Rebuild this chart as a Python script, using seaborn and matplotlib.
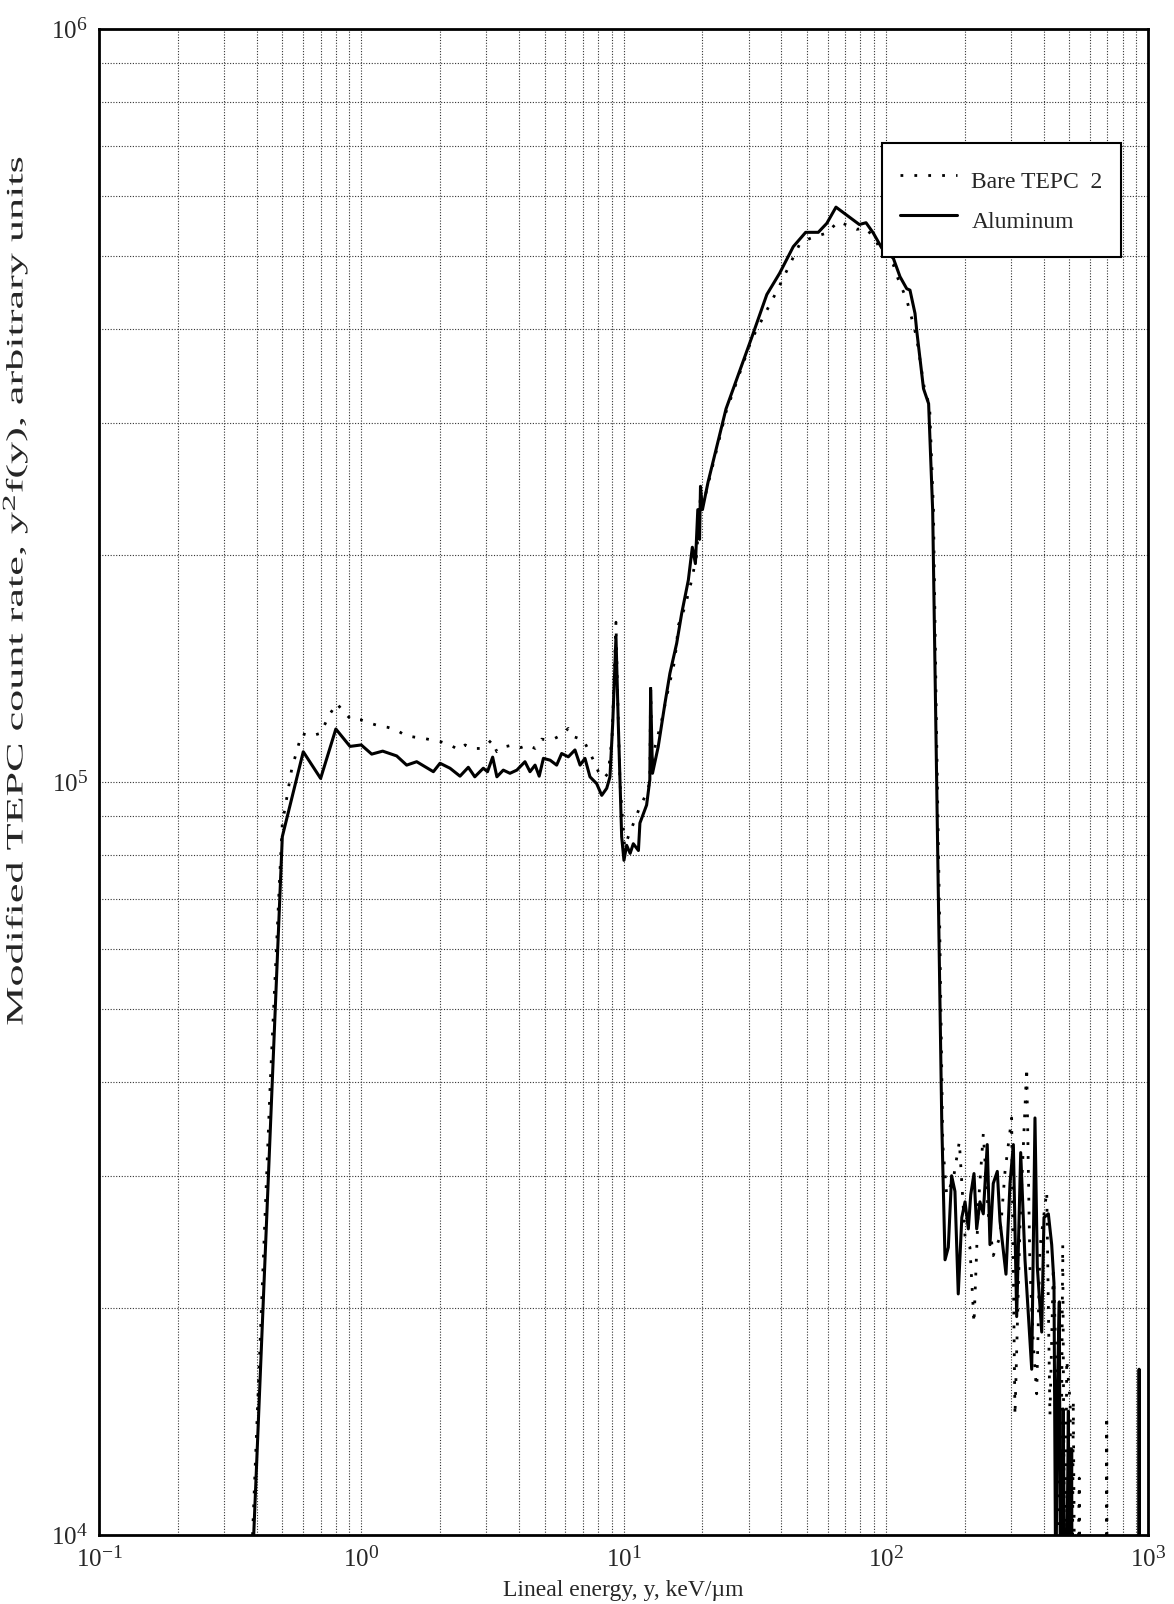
import numpy as np
import pandas as pd
import matplotlib
matplotlib.use("Agg")
import matplotlib.pyplot as plt
import seaborn as sns
from matplotlib.ticker import LogLocator, LogFormatterMathtext, NullFormatter
from matplotlib.patheffects import AbstractPathEffect
from matplotlib.transforms import Affine2D

try:  # slightly larger superscripts, as in the reference
    import matplotlib._mathtext as _mt
    _mt.SHRINK_FACTOR = 0.78
except Exception:
    pass

# ---------------- data ----------------
al_x = [0.389, 0.5, 0.601, 0.70, 0.80, 0.906, 1.0, 1.096, 1.207, 1.365, 1.49, 1.627,
        1.884, 1.997, 2.18, 2.38, 2.56, 2.71, 2.92, 3.03, 3.17, 3.29, 3.48, 3.69,
        3.92, 4.21, 4.40, 4.60, 4.77, 4.95, 5.25, 5.56, 5.81, 6.16, 6.53, 6.83,
        7.13, 7.45, 7.90, 8.26, 8.63, 8.88, 9.1, 9.36, 9.55, 9.84, 10.04, 10.28,
        10.6, 10.9, 11.4, 11.55, 12.25, 12.6, 12.69, 12.9, 13.57, 14.39, 15.03,
        15.95, 16.67, 17.67, 18.3, 18.8, 19.2, 19.5, 19.66, 20.0, 21.0, 24.6,
        30.8, 35.2, 39.4, 44.4, 49.5, 55.3, 59.6, 64.6, 71.0, 79.3, 84.1, 89.6,
        96.5, 106.9, 113.3, 120.2, 123.7, 129.3, 131.2, 139.3, 145.7, 151, 155,
        159.2, 163.6, 168.3, 173.2, 178.3, 183.6, 189, 195, 200.6, 206.5, 210.9,
        217, 222.2, 228.6, 235.5, 243.8, 249.7, 257, 266.3, 272.7, 287.4, 297.7,
        306.6, 315.7, 327, 339.6, 349.6, 360.2, 370.7, 378.4, 393.3, 401.2,
        416.9, 429.3, 438, 445, 452, 459, 466, 475, 485, 497, 503, 511.5, 520,
        924, 925, 926]
al_y = [1.0e4, 8.46e4, 1.097e5, 1.011e5, 1.176e5, 1.115e5, 1.12e5, 1.089e5, 1.099e5,
        1.083e5, 1.053e5, 1.064e5, 1.032e5, 1.059e5, 1.043e5, 1.018e5, 1.046e5,
        1.016e5, 1.043e5, 1.032e5, 1.079e5, 1.016e5, 1.037e5, 1.027e5, 1.037e5,
        1.064e5, 1.032e5, 1.053e5, 1.018e5, 1.075e5, 1.069e5, 1.053e5, 1.091e5,
        1.080e5, 1.103e5, 1.053e5, 1.075e5, 1.016e5, 9.95e4, 9.6e4, 9.81e4,
        1.016e5, 1.2e5, 1.56e5, 1.2e5, 8.46e4, 7.87e4, 8.24e4, 8.04e4, 8.28e4,
        8.11e4, 8.82e4, 9.32e4, 1.007e5, 1.325e5, 1.027e5, 1.115e5, 1.272e5,
        1.394e5, 1.528e5, 1.675e5, 1.854e5, 2.05e5, 1.95e5, 2.3e5, 2.1e5, 2.47e5,
        2.3e5, 2.5e5, 3.13e5, 3.89e5, 4.44e5, 4.74e5, 5.14e5, 5.37e5, 5.37e5,
        5.52e5, 5.80e5, 5.66e5, 5.50e5, 5.53e5, 5.36e5, 5.12e5, 4.96e5, 4.69e5,
        4.52e5, 4.50e5, 4.19e5, 3.98e5, 3.33e5, 3.18e5, 2.29e5, 1.224e5, 6.55e4,
        3.5e4, 2.32e4, 2.41e4, 3.0e4, 2.86e4, 2.09e4, 2.64e4, 2.77e4, 2.55e4,
        2.83e4, 3.02e4, 2.55e4, 2.77e4, 2.67e4, 3.30e4, 2.43e4, 2.93e4, 3.04e4,
        2.61e4, 2.22e4, 2.93e4, 3.30e4, 1.95e4, 3.22e4, 2.32e4, 1.97e4, 1.66e4,
        3.58e4, 2.27e4, 1.86e4, 2.64e4, 2.67e4, 2.43e4, 2.16e4, 8e3, 1.6e4,
        2.04e4, 5e3, 1.47e4, 6e3, 1.46e4, 5e3, 1.30e4, 1e3,
        1e3, 1.66e4, 1e3]

bare_x = [0.385, 0.45, 0.49, 0.5, 0.543, 0.593, 0.641, 0.70, 0.755, 0.806, 0.862,
          0.919, 0.998, 1.08, 1.172, 1.262, 1.365, 1.478, 1.60, 1.725, 1.866, 2.01,
          2.18, 2.36, 2.49, 2.64, 2.84, 3.01, 3.14, 3.29, 3.53, 3.80, 4.06, 4.34,
          4.60, 4.87, 5.17, 5.48, 5.81, 6.16, 6.44, 6.73, 7.03, 7.35, 7.68, 8.02,
          8.38, 8.75, 9.05, 9.36, 9.5, 9.70, 10.1, 10.43, 10.9, 11.55, 12.25, 12.6,
          12.69, 12.85, 13.2, 13.99, 14.8, 15.7, 16.2, 17.17, 18.2, 19.0, 19.66,
          20.5, 24.6, 30.8, 38.6, 47.1, 51.4, 59.6, 65.9, 73.1, 77.5, 84.1, 92.4,
          95, 107, 110, 116.7, 120.2, 125.6, 131, 140, 147, 152, 156, 160.5, 165,
          170.7, 181, 190.8, 200.6, 209.4, 217, 225.4, 235.5, 246, 257, 272.7, 285,
          302, 311, 325, 344.7, 354.6, 365, 376.3, 387.3, 411, 422.7, 435.5, 448.6,
          460, 473, 482, 490, 505, 512, 519, 530, 547, 560, 690, 696, 702]
bare_y = [1.0e4, 4.0e4, 7.64e4, 8.8e4, 1.04e5, 1.16e5, 1.15e5, 1.161e5, 1.227e5,
          1.272e5, 1.236e5, 1.209e5, 1.209e5, 1.197e5, 1.187e5, 1.182e5, 1.172e5,
          1.152e5, 1.147e5, 1.143e5, 1.137e5, 1.131e5, 1.12e5, 1.103e5, 1.12e5,
          1.108e5, 1.108e5, 1.12e5, 1.137e5, 1.097e5, 1.114e5, 1.12e5, 1.111e5,
          1.12e5, 1.108e5, 1.14e5, 1.137e5, 1.143e5, 1.155e5, 1.178e5, 1.149e5,
          1.143e5, 1.137e5, 1.103e5, 1.069e5, 1.032e5, 1.011e5, 1.027e5, 1.15e5,
          1.63e5, 1.3e5, 9.95e4, 8.2e4, 8.46e4, 8.8e4, 9.27e4, 9.66e4, 1.0e5,
          1.358e5, 1.05e5, 1.115e5, 1.208e5, 1.325e5, 1.452e5, 1.616e5, 1.71e5,
          1.854e5, 2.0e5, 2.4e5, 2.4e5, 3.1e5, 3.87e5, 4.5e5, 5.19e5, 5.27e5,
          5.36e5, 5.55e5, 5.47e5, 5.42e5, 5.44e5, 5.22e5, 5.06e5, 4.86e5, 4.71e5,
          4.48e5, 4.37e5, 4.13e5, 3.9e5, 3.35e5, 3.15e5, 2.3e5, 1.2e5, 6.5e4,
          3.3e4, 2.83e4, 2.97e4, 3.33e4, 2.49e4, 2.41e4, 1.91e4, 2.74e4, 3.41e4,
          2.67e4, 2.35e4, 2.49e4, 3.04e4, 3.58e4, 1.44e4, 2.58e4, 4.18e4, 2.27e4,
          1.80e4, 1.54e4, 2.41e4, 2.86e4, 1.44e4, 2.27e4, 1.60e4, 6e3, 2.43e4,
          7e3, 1.71e4, 1.5e4, 6e3, 1.51e4, 5e3, 1.19e4, 3e3, 3e3, 1.44e4, 3e3]

series_names = ["Bare TEPC  2", "Aluminum"]


class StretchText(AbstractPathEffect):
    """Draw a text's glyphs stretched along the reading direction."""

    def __init__(self, sx):
        super().__init__()
        self.sx = sx

    def draw_path(self, renderer, gc, tpath, affine, rgbFace=None):
        renderer.draw_path(gc, tpath, Affine2D().scale(self.sx, 1.0) + affine, rgbFace)


# ---------------- styling ----------------
sns.set_style("white")
plt.rcParams["font.family"] = ["Liberation Serif", "DejaVu Serif"]
plt.rcParams["mathtext.fontset"] = "custom"
plt.rcParams["mathtext.rm"] = "Liberation Serif"
plt.rcParams["mathtext.it"] = "Liberation Serif:italic"
plt.rcParams["mathtext.default"] = "regular"

fig = plt.figure(figsize=(11.74, 16.04), dpi=100)
ax = fig.add_axes([99 / 1174, 1 - 1535 / 1604, (1148 - 99) / 1174, (1535 - 29) / 1604])

df_bare = pd.DataFrame({"x": bare_x, "y": bare_y})
df_al = pd.DataFrame({"x": al_x, "y": al_y})

sns.lineplot(data=df_bare, x="x", y="y", ax=ax, color="black", linewidth=2.0,
             linestyle=(0, (1, 4)), estimator=None, sort=False, label=series_names[0])
sns.lineplot(data=df_al, x="x", y="y", ax=ax, color="black", linewidth=2.2,
             linestyle="-", estimator=None, sort=False, label=series_names[1])

ax.set_xscale("log")
ax.set_yscale("log")
ax.set_xlim(0.1, 1000)
ax.set_ylim(1e4, 1e6)

ax.xaxis.set_major_locator(LogLocator(base=10, numticks=10))
ax.yaxis.set_major_locator(LogLocator(base=10, numticks=10))
ax.xaxis.set_minor_locator(LogLocator(base=10, subs=np.arange(2, 10), numticks=20))
ax.yaxis.set_minor_locator(LogLocator(base=10, subs=np.arange(2, 10), numticks=20))
ax.xaxis.set_major_formatter(LogFormatterMathtext())
ax.yaxis.set_major_formatter(LogFormatterMathtext())
ax.xaxis.set_minor_formatter(NullFormatter())
ax.yaxis.set_minor_formatter(NullFormatter())

ax.grid(which="both", color="0.2", linestyle=(0, (1, 1.5)), linewidth=0.8)
ax.set_axisbelow(True)

ax.tick_params(which="major", direction="in", length=7, width=1.5, labelsize=18,
               top=False, right=False, pad=8)
ax.tick_params(which="minor", direction="in", length=4, width=1.2,
               top=False, right=False)
for s in ax.spines.values():
    s.set_linewidth(2.0)
    s.set_color("black")

ax.set_xlabel("Lineal energy, y, keV/µm", fontsize=17, labelpad=6)
ylab = ax.set_ylabel("Modified TEPC count rate, y$^{2}$f(y), arbitrary units", fontsize=17)
ylab.set_path_effects([StretchText(1.87)])
ax.yaxis.set_label_coords(-0.065, 0.493)

leg = ax.legend(loc="upper left", bbox_to_anchor=(0.746, 0.924), borderaxespad=0,
                fontsize=17, frameon=True, fancybox=False, framealpha=1,
                edgecolor="black", handlelength=2.4, handletextpad=0.6,
                borderpad=0.8, labelspacing=0.13, handleheight=2.0)
leg.get_frame().set_linewidth(1.5)

fig.savefig("out.png", dpi=100)
